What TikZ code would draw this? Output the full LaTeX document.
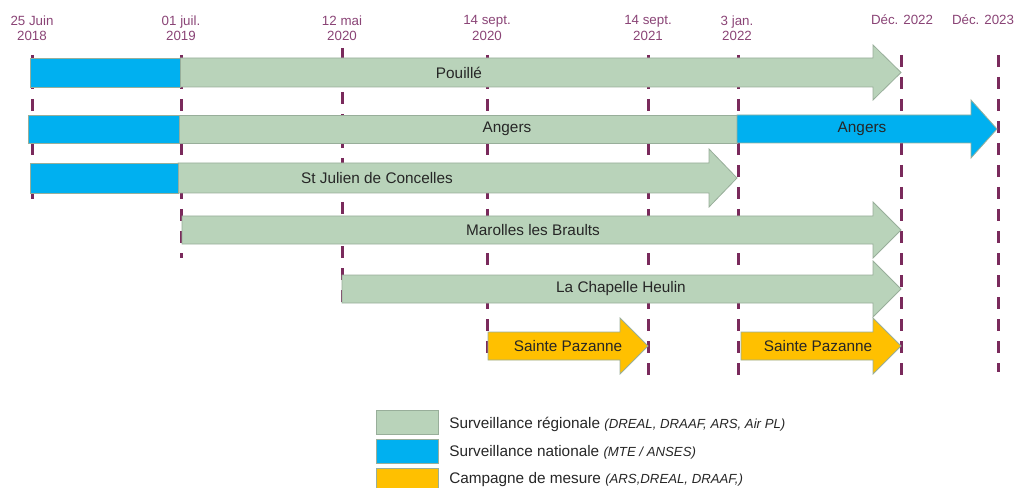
\documentclass[tikz,border=0pt]{standalone}
\usepackage{fontspec}
\setmainfont{Liberation Sans}
\definecolor{regc}{HTML}{B9D3BA}
\definecolor{regb}{HTML}{98AE9A}
\definecolor{natc}{HTML}{00B0F0}
\definecolor{camc}{HTML}{FFC000}
\definecolor{linec}{HTML}{7A2A5C}
\definecolor{datec}{HTML}{8A4476}
\definecolor{txtc}{HTML}{262626}
\newcommand\myitfont{\fontsize{9.9}{11}\selectfont\itshape}
\begin{document}
\begin{tikzpicture}[x=0.75pt,y=-0.75pt,
  vline/.style={draw=linec,line width=2.25pt,dash pattern=on 9pt off 7.5pt},
  datelbl/.style={text=datec,font=\fontsize{10}{11.5}\selectfont,align=center,inner sep=0pt},
  reg/.style={fill=regc,draw=regb,line width=0.6pt},
  nat/.style={fill=natc,draw=regb,line width=0.6pt},
  cam/.style={fill=camc,draw=regb,line width=0.6pt},
  bartxt/.style={text=txtc,font=\fontsize{11.5}{13}\selectfont,inner sep=0pt},
  legtxt/.style={text=txtc,font=\fontsize{11.5}{13}\selectfont,anchor=west,inner sep=0pt}]
\useasboundingbox (0,0) rectangle (1016,488);
% date labels
\node[datelbl] (d1) at (32,28) {25 Juin\\2018};
\node[datelbl] (d2) at (181,28) {01 juil.\\2019};
\node[datelbl] (d3) at (342,28) {12 mai\\2020};
\node[datelbl] (d4) at (487,28) {14 sept.\\2020};
\node[datelbl] (d5) at (648,28) {14 sept.\\2021};
\node[datelbl] (d6) at (737,28) {3 jan.\\2022};
\node[datelbl] (d7) at (902,20) {Déc. 2022};
\node[datelbl] (d8) at (983,20) {Déc. 2023};
% dashed lines
\draw[vline] (32,55) -- (32,200);
\draw[vline] (181,55) -- (181,258);
\draw[vline] (342,48) -- (342,305);
\draw[vline] (487,55) -- (487,358);
\draw[vline] (648,55) -- (648,378);
\draw[vline] (738,55) -- (738,378);
\draw[vline] (901,55) -- (901,375);
\draw[vline] (998,55) -- (998,372);
% row 1 Pouille
\draw[reg] (180,58) -- (873,58) -- (873,45) -- (901,72.5) -- (873,100) -- (873,87) -- (180,87) -- cycle;
\draw[nat] (30,58) rectangle (180,87);
\node[bartxt] (t1) at (459,72.5) {Pouillé};
% row 2 Angers
\draw[reg] (179,115) rectangle (737,143);
\draw[nat] (28,115) rectangle (179,143);
\draw[nat] (737,115) -- (971,115) -- (971,100) -- (997,129) -- (971,158) -- (971,143) -- (737,143) -- cycle;
\node[bartxt] (t2a) at (507,129) {Angers};
\node[bartxt] (t2b) at (862,129) {Angers};
% row 3 St Julien
\draw[reg] (178,163) -- (709,163) -- (709,149) -- (737,178) -- (709,207) -- (709,193) -- (178,193) -- cycle;
\draw[nat] (30,163) rectangle (178,193);
\node[bartxt] (t3) at (377,178) {St Julien de Concelles};
% row 4 Marolles
\draw[reg] (182,216) -- (873,216) -- (873,202) -- (901,230) -- (873,258) -- (873,244) -- (182,244) -- cycle;
\node[bartxt] (t4) at (533,230) {Marolles les Braults};
% row 5 La Chapelle
\draw[reg] (342,275) -- (873,275) -- (873,261) -- (901,289) -- (873,317) -- (873,303) -- (342,303) -- cycle;
\node[bartxt] (t5) at (621,289) {La Chapelle Heulin};
% row 6 Sainte Pazanne
\draw[cam] (488,332) -- (620,332) -- (620,318) -- (648,346) -- (620,374) -- (620,360) -- (488,360) -- cycle;
\node[bartxt] (t6a) at (568,346) {Sainte Pazanne};
\draw[cam] (741,332) -- (873,332) -- (873,318) -- (901,346) -- (873,374) -- (873,360) -- (741,360) -- cycle;
\node[bartxt] (t6b) at (818,346) {Sainte Pazanne};
% legend
\draw[reg] (376,410) rectangle (438,434);
\draw[nat] (376,439) rectangle (438,463);
\draw[cam] (376,468) rectangle (438,492);
\node[legtxt] (l1) at (449,424) {Surveillance régionale {\myitfont(DREAL, DRAAF, ARS, Air PL)}};
\node[legtxt] (l2) at (449,452) {Surveillance nationale {\myitfont(MTE / ANSES)}};
\node[legtxt] (l3) at (449,480) {Campagne de mesure {\myitfont(ARS,DREAL, DRAAF,)}};
\end{tikzpicture}
\end{document}
